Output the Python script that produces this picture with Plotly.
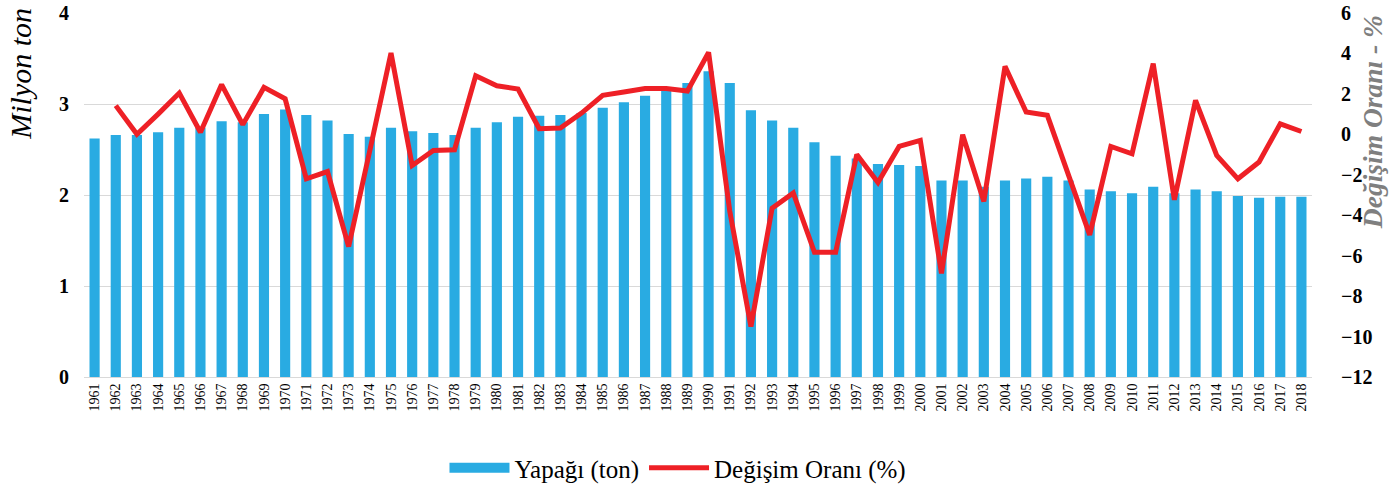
import plotly.graph_objects as go

# Yıllar
years = [str(y) for y in range(1961, 2019)]

# Yapağı üretimi (milyon ton)
wool = [2.62, 2.66, 2.66, 2.69, 2.74, 2.74, 2.81, 2.80, 2.89, 2.94,
        2.88, 2.82, 2.67, 2.64, 2.74, 2.70, 2.68, 2.66, 2.74, 2.80,
        2.86, 2.87, 2.88, 2.90, 2.96, 3.02, 3.09, 3.15, 3.23, 3.36,
        3.23, 2.93, 2.82, 2.74, 2.58, 2.43, 2.40, 2.34, 2.33, 2.32,
        2.16, 2.16, 2.09, 2.16, 2.18, 2.20, 2.16, 2.06, 2.04, 2.02,
        2.09, 2.02, 2.06, 2.04, 1.99, 1.97, 1.98, 1.98]

# Değişim oranı (%), 1961 boş
change = [None, 1.42, 0.0, 1.0, 2.04, 0.1, 2.46, 0.48, 2.32, 1.76,
          -2.2, -1.84, -5.55, -0.8, 4.02, -1.54, -0.8, -0.76, 2.9, 2.4,
          2.24, 0.28, 0.31, 1.05, 1.93, 2.09, 2.27, 2.27, 2.14, 4.05,
          -3.8, -9.5, -3.65, -2.9, -5.83, -5.83, -1.0, -2.38, -0.6, -0.3,
          -6.87, -0.02, -3.32, 3.36, 1.1, 0.94, -2.0, -4.97, -0.6, -0.96,
          3.5, -3.24, 1.68, -1.04, -2.2, -1.37, 0.52, 0.14]

FONT = "Liberation Serif, Times New Roman, serif"
BLUE = "#29abe2"
RED = "#ee2026"

fig = go.Figure()
fig.add_trace(go.Bar(x=years, y=wool, name="Yapağı (ton)", showlegend=False,
                     marker=dict(color=BLUE, line=dict(width=0))))
# lejantta geniş dikdörtgen görünsün diye boş bir çizgi izi
fig.add_trace(go.Scatter(x=[None], y=[None], name="Yapağı (ton)", mode="lines",
                         line=dict(color=BLUE, width=12)))
fig.add_trace(go.Scatter(x=years, y=change, name="Değişim Oranı (%)",
                         yaxis="y2", mode="lines",
                         line=dict(color=RED, width=5)))

fig.update_layout(
    width=1396, height=485,
    margin=dict(l=84, r=84, t=13, b=108, autoexpand=False),
    paper_bgcolor="white", plot_bgcolor="white",
    font=dict(family=FONT, color="black"),
    bargap=0.52,
    showlegend=True,
    legend=dict(orientation="h", x=0.4837, xanchor="center", y=-0.187, yanchor="top",
                font=dict(size=25, family=FONT), itemwidth=60,
                traceorder="normal"),
    xaxis=dict(type="category", tickangle=-90, tickfont=dict(size=14, family=FONT),
               showgrid=False, linecolor="#d9d9d9", linewidth=1, ticks=""),
    yaxis=dict(range=[0, 4], dtick=1, showgrid=True, gridcolor="#d9d9d9",
               gridwidth=1, zeroline=False, showline=False,
               tickfont=dict(size=20, family=FONT, weight="bold"),
               ticklabelstandoff=14),
    yaxis2=dict(range=[-12, 6], dtick=2, overlaying="y", side="right",
                showgrid=False, zeroline=False, showline=False,
                tickfont=dict(size=20, family=FONT, weight="bold"),
                ticklabelstandoff=28),
)

# Eksen başlıkları (üst hizalı)
fig.add_annotation(text="<i>Milyon ton</i>", xref="paper", yref="paper",
                   x=-0.0513, y=1.02, xanchor="center", yanchor="top",
                   textangle=-90, showarrow=False,
                   font=dict(size=30, family=FONT, color="black"))
fig.add_annotation(text="<b><i>Değişim Oranı - %</i></b>", xref="paper", yref="paper",
                   x=1.049, y=1.0, xanchor="center", yanchor="top",
                   textangle=-90, showarrow=False,
                   font=dict(size=27.5, family=FONT, color="#7f7f7f"))

# sayfa gövdesindeki varsayılan boşluğu kaldır
fig.write_html("out.html", config={"displayModeBar": False},
               post_script="document.body.style.margin='0px';")
